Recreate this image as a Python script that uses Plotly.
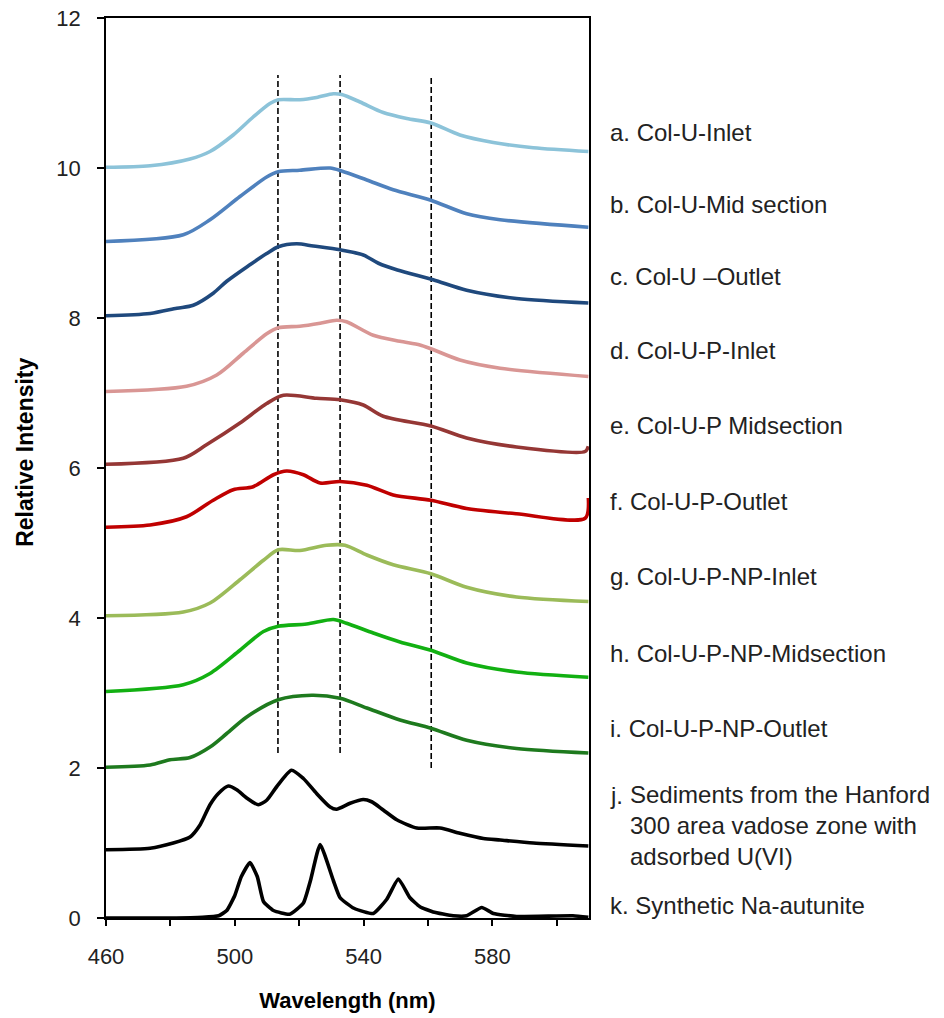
import plotly.graph_objects as go

# ---- Offset emission spectra (wavelength in nm, relative intensity) ----
wl_a = [460, 473.7, 486.1, 492.3, 499.5, 505.7, 510.9, 513.5, 520.2, 525.4, 530.6, 533.2, 538.9, 546.1, 553.4, 560.9, 569.9, 580.3, 592.7, 609.8]
col_u_inlet = [10.01, 10.03, 10.12, 10.22, 10.44, 10.68, 10.86, 10.91, 10.91, 10.94, 10.99, 10.98, 10.88, 10.74, 10.66, 10.60, 10.44, 10.34, 10.27, 10.22]

wl_b = [460, 484, 492.3, 501.6, 509.9, 513.5, 520.2, 529.6, 533.2, 541, 549.2, 560.9, 572, 582.4, 609.8]
col_u_mid = [9.02, 9.11, 9.31, 9.62, 9.88, 9.95, 9.97, 10.0, 9.96, 9.84, 9.71, 9.57, 9.39, 9.31, 9.21]

wl_c = [460, 473.7, 482, 487.1, 493.3, 497.5, 504.7, 509.9, 513.5, 519.2, 524.4, 532.7, 539.9, 544.6, 550.5, 561.6, 572, 587.5, 609.8]
col_u_outlet = [8.03, 8.06, 8.13, 8.17, 8.33, 8.49, 8.71, 8.86, 8.95, 8.99, 8.96, 8.91, 8.84, 8.73, 8.64, 8.51, 8.37, 8.26, 8.20]

wl_d = [460, 485, 494.4, 502.6, 509.9, 513.5, 520.2, 526.5, 531.6, 534.7, 543, 551.3, 557.5, 560.9, 569.9, 582.4, 609.8]
col_u_p_inlet = [7.02, 7.09, 7.24, 7.53, 7.79, 7.87, 7.89, 7.93, 7.97, 7.95, 7.77, 7.69, 7.64, 7.59, 7.44, 7.33, 7.22]

wl_e = [460, 484, 491.2, 501.6, 509.9, 515.1, 525.4, 532.7, 539.9, 546.1, 560.9, 572, 587.5, 608.8, 609.8]
col_u_p_mid = [6.05, 6.13, 6.31, 6.60, 6.86, 6.97, 6.93, 6.91, 6.84, 6.69, 6.56, 6.40, 6.28, 6.22, 6.29]

wl_f = [460, 473.7, 485, 493.3, 499.5, 505.7, 512, 516.1, 521.3, 526.5, 532.7, 541, 549.2, 560.9, 572, 587.5, 608.8, 609.8]
col_u_p_outlet = [5.21, 5.24, 5.35, 5.57, 5.71, 5.75, 5.91, 5.96, 5.91, 5.80, 5.82, 5.77, 5.64, 5.57, 5.46, 5.39, 5.33, 5.60]

wl_g = [460, 484, 492.3, 501.6, 508.9, 513.5, 520.2, 528.5, 534.2, 541, 549.2, 560.9, 572, 587.5, 609.8]
col_u_p_np_inlet = [4.03, 4.08, 4.20, 4.51, 4.77, 4.91, 4.90, 4.97, 4.97, 4.84, 4.71, 4.59, 4.41, 4.28, 4.22]

wl_h = [460, 484, 492.3, 501.6, 508.9, 513.5, 522.3, 530.6, 534.7, 543, 551.3, 560.9, 572, 587.5, 609.8]
col_u_p_np_mid = [3.02, 3.11, 3.26, 3.57, 3.82, 3.89, 3.92, 3.98, 3.93, 3.80, 3.68, 3.57, 3.40, 3.28, 3.21]

wl_i = [460, 473.7, 479.9, 486.1, 492.3, 497.5, 503.7, 513.5, 523.9, 532.7, 541, 551.3, 560.9, 572, 587.5, 609.8]
col_u_p_np_outlet = [2.01, 2.04, 2.11, 2.14, 2.28, 2.46, 2.68, 2.91, 2.97, 2.93, 2.80, 2.64, 2.53, 2.37, 2.26, 2.20]

wl_j = [460, 473.7, 480.9, 486.1, 489.2, 492.3, 494.9, 498, 500.6, 503.7, 507.3, 509.9, 513, 517.6, 521.3, 525.4, 529.6, 531.6, 535.8, 539.9, 542.5, 546.1, 550.3, 556.5, 563.7, 569.9, 577.2, 582.4, 592.7, 609.8]
hanford_sediment = [0.91, 0.93, 1.0, 1.08, 1.24, 1.51, 1.66, 1.76, 1.71, 1.60, 1.51, 1.57, 1.75, 1.97, 1.86, 1.66, 1.48, 1.45, 1.53, 1.58, 1.55, 1.44, 1.31, 1.20, 1.20, 1.13, 1.06, 1.04, 1.00, 0.96]

wl_k = [460, 480, 490, 495, 497.5, 500, 502, 504.7, 507, 508.9, 512, 517, 521.3, 523.5, 526.5, 530.6, 532.7, 537, 543, 547.2, 550.8, 554.4, 557.5, 561.6, 567.8, 572, 576.7, 580.3, 587.5, 605, 609.8]
na_autunite = [0.0, 0.0, 0.01, 0.03, 0.1, 0.3, 0.55, 0.74, 0.55, 0.22, 0.1, 0.05, 0.2, 0.5, 0.98, 0.5, 0.27, 0.13, 0.06, 0.25, 0.52, 0.27, 0.15, 0.08, 0.03, 0.03, 0.14, 0.06, 0.02, 0.03, 0.01]

series_labels = [
    "a. Col-U-Inlet", "b. Col-U-Mid section", "c. Col-U \u2013Outlet", "d. Col-U-P-Inlet",
    "e. Col-U-P Midsection", "f. Col-U-P-Outlet", "g. Col-U-P-NP-Inlet",
    "h. Col-U-P-NP-Midsection", "i. Col-U-P-NP-Outlet", "j.", "k. Synthetic Na-autunite",
]
j_label_body = "Sediments from the Hanford<br>300 area vadose zone with<br>adsorbed U(VI)"
label_levels = [10.48, 9.52, 8.56, 7.57, 6.57, 5.55, 4.55, 3.53, 2.53, 1.64, 0.17]

# Reference peak positions (nm) with vertical extent
peak_lines = [513.4, 532.7, 561.0]
peak_line_bottoms = [2.2, 2.2, 2.0]
peak_line_top = 11.24

wavelengths = [wl_a, wl_b, wl_c, wl_d, wl_e, wl_f, wl_g, wl_h, wl_i, wl_j, wl_k]
intensities = [col_u_inlet, col_u_mid, col_u_outlet, col_u_p_inlet, col_u_p_mid, col_u_p_outlet,
               col_u_p_np_inlet, col_u_p_np_mid, col_u_p_np_outlet, hanford_sediment, na_autunite]
colors = ["#8CC3D9", "#4F81BD", "#1F497D", "#D99694", "#953735", "#C00000",
          "#9BBB59", "#12B012", "#1E7A1E", "#000000", "#000000"]
smoothing = [0.8] * 9 + [0.6, 0.45]

fig = go.Figure()

for xb, yb in zip(peak_lines, peak_line_bottoms):
    fig.add_trace(go.Scatter(x=[xb, xb], y=[yb, peak_line_top], mode="lines",
                             line=dict(color="black", width=1.6, dash="6px,3px"),
                             hoverinfo="skip", showlegend=False))

for x, y, c, s in zip(wavelengths, intensities, colors, smoothing):
    fig.add_trace(go.Scatter(x=x, y=y, mode="lines",
                             line=dict(color=c, width=3.6, shape="spline", smoothing=s),
                             showlegend=False))

FONT = "Liberation Sans, Arial, sans-serif"
annotations = []
for text, lvl in zip(series_labels, label_levels):
    annotations.append(dict(x=1.04, xref="paper", y=lvl, yref="y", text=text,
                            showarrow=False, xanchor="left", yanchor="middle",
                            font=dict(family=FONT, size=24, color="#222222")))
annotations.append(dict(x=1.081, xref="paper", y=1.24, yref="y", text=j_label_body,
                        showarrow=False, xanchor="left", yanchor="middle", align="left",
                        font=dict(family=FONT, size=24, color="#222222")))
annotations.append(dict(x=-0.168, xref="paper", y=(918 - 452) / 900, yref="paper",
                        text="<b>Relative Intensity</b>", textangle=-90, showarrow=False,
                        xanchor="center", yanchor="middle",
                        font=dict(family=FONT, size=23, color="black")))

tick_vals = [460, 480, 500, 520, 540, 560, 580, 600]
tick_text = ["460", "", "500", "", "540", "", "580", ""]

fig.update_layout(
    width=944, height=1018,
    margin=dict(l=106, r=355, t=18, b=100, autoexpand=False),
    paper_bgcolor="white", plot_bgcolor="white",
    annotations=annotations,
    xaxis=dict(range=[460, 610], tickvals=tick_vals, ticktext=tick_text,
               ticks="outside", ticklen=6, tickwidth=1.5, tickcolor="black",
               showline=True, linecolor="black", linewidth=1.6, mirror=True,
               showgrid=False, zeroline=False, ticklabelstandoff=12, automargin=False,
               tickfont=dict(family=FONT, size=22, color="#222222"),
               title=dict(text="<b>Wavelength (nm)</b>", standoff=24,
                          font=dict(family=FONT, size=22, color="black"))),
    yaxis=dict(range=[0, 12], dtick=2, ticks="outside", ticklen=7, tickwidth=1.5,
               tickcolor="black", showline=True, linecolor="black", linewidth=1.6,
               mirror=True, showgrid=False, zeroline=False, ticklabelstandoff=12,
               automargin=False,
               tickfont=dict(family=FONT, size=22, color="#222222")),
)

fig.write_html("out.html")
